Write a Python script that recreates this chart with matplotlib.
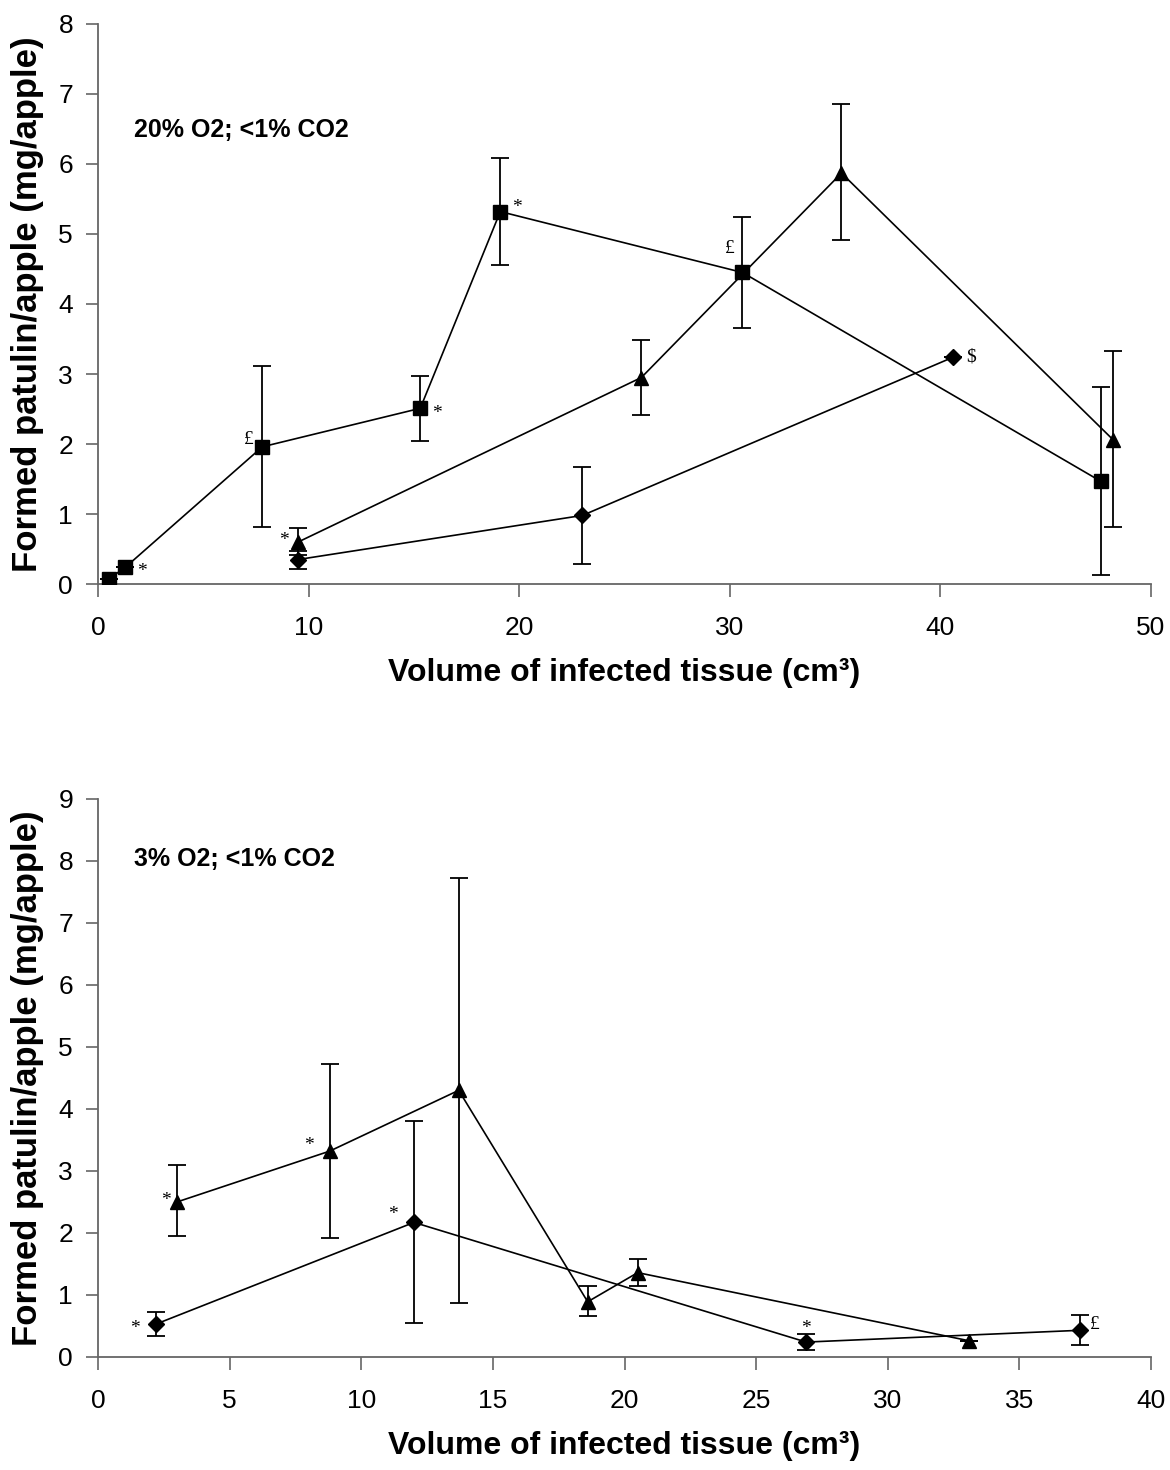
import numpy as np
import matplotlib.pyplot as plt

plt.rcParams['font.family'] = ['Liberation Sans', 'DejaVu Sans']

# 20% O2; <1% CO2 -- three series
sq_x = [0.5, 1.3, 7.8, 15.3, 19.1, 30.6, 47.6]
sq_y = [0.07, 0.24, 1.96, 2.51, 5.32, 4.45, 1.47]
sq_lo = [0.07, 0.24, 0.81, 2.05, 4.55, 3.65, 0.13]
sq_hi = [0.07, 0.24, 3.11, 2.97, 6.09, 5.24, 2.82]

tri_x = [9.5, 25.8, 35.3, 48.2]
tri_y = [0.60, 2.95, 5.87, 2.06]
tri_lo = [0.42, 2.42, 4.92, 0.82]
tri_hi = [0.80, 3.48, 6.85, 3.33]

dia_x = [9.5, 23.0, 40.6]
dia_y = [0.35, 0.98, 3.24]
dia_lo = [0.22, 0.28, 3.24]
dia_hi = [0.47, 1.67, 3.24]

# 3% O2; <1% CO2 -- two series
tri2_x = [3.0, 8.8, 13.7, 18.6, 20.5, 33.1]
tri2_y = [2.50, 3.32, 4.30, 0.89, 1.36, 0.26]
tri2_lo = [1.95, 1.92, 0.87, 0.66, 1.15, 0.26]
tri2_hi = [3.10, 4.73, 7.72, 1.15, 1.58, 0.26]

dia2_x = [2.2, 12.0, 26.9, 37.3]
dia2_y = [0.53, 2.17, 0.24, 0.43]
dia2_lo = [0.33, 0.54, 0.12, 0.19]
dia2_hi = [0.73, 3.80, 0.37, 0.67]

# significance marks: (x, y, symbol, dx pts, dy pts)
top_marks = [
    (1.3, 0.24, '*', 12, -3),
    (7.8, 1.96, '£', -10, 5),
    (15.3, 2.51, '*', 12, -4),
    (19.1, 5.32, '*', 12, 3),
    (30.6, 4.45, '£', -9, 17),
    (9.5, 0.60, '*', -10, 1),
    (40.6, 3.24, '$', 13, 0),
]
bot_marks = [
    (3.0, 2.50, '*', -8, 1),
    (8.8, 3.32, '*', -15, 4),
    (12.0, 2.17, '*', -15, 6),
    (2.2, 0.53, '*', -15, -3),
    (26.9, 0.24, '*', 0, 10),
    (37.3, 0.43, '£', 11, 4),
]


def series(ax, x, y, lo, hi, marker, ms):
    y = np.array(y)
    err = [y - np.array(lo), np.array(hi) - y]
    ax.errorbar(x, y, yerr=err, fmt='none', ecolor='black', elinewidth=1.3,
                capsize=6.5, capthick=1.3, zorder=2)
    ax.plot(x, y, color='black', lw=1.2, marker=marker, ms=ms,
            markerfacecolor='black', markeredgecolor='black', zorder=3)


def style(ax, xmax, xstep, ymax):
    ax.set_xlim(0, xmax)
    ax.set_ylim(0, ymax)
    ax.set_xticks(np.arange(0, xmax + 1, xstep))
    ax.set_yticks(np.arange(0, ymax + 1, 1))
    for s in ['top', 'right']:
        ax.spines[s].set_visible(False)
    for s in ['left', 'bottom']:
        ax.spines[s].set_color('#666666')
        ax.spines[s].set_linewidth(1.3)
    ax.tick_params(direction='out', length=9, width=1.2, color='#666666',
                   labelsize=19)
    ax.tick_params(axis='y', pad=9)
    ax.tick_params(axis='x', pad=14)
    ax.set_xlabel('Volume of infected tissue (cm³)', fontsize=23,
                  fontweight='bold', labelpad=13)
    ax.set_ylabel('Formed patulin/apple (mg/apple)', fontsize=25,
                  fontweight='bold', labelpad=10)


def marks(ax, items):
    for x, y, s, dx, dy in items:
        ax.annotate(s, (x, y), xytext=(dx, dy), textcoords='offset points',
                    ha='center', va='center', fontsize=14,
                    family='Liberation Serif')


fig = plt.figure(figsize=(11.7, 14.7), dpi=100)
ax1 = fig.add_axes([0.0838, 0.6027, 0.90, 0.381])
ax2 = fig.add_axes([0.0838, 0.0769, 0.90, 0.3796])

series(ax1, sq_x, sq_y, sq_lo, sq_hi, 's', 10)
series(ax1, tri_x, tri_y, tri_lo, tri_hi, '^', 10)
series(ax1, dia_x, dia_y, dia_lo, dia_hi, 'D', 8.5)
style(ax1, 50, 10, 8)
marks(ax1, top_marks)
ax1.text(0.034, 0.81, '20% O2; <1% CO2', transform=ax1.transAxes,
         fontsize=18, fontweight='bold', va='center')

series(ax2, tri2_x, tri2_y, tri2_lo, tri2_hi, '^', 10)
series(ax2, dia2_x, dia2_y, dia2_lo, dia2_hi, 'D', 8.5)
style(ax2, 40, 5, 9)
marks(ax2, bot_marks)
ax2.text(0.034, 0.893, '3% O2; <1% CO2', transform=ax2.transAxes,
         fontsize=18, fontweight='bold', va='center')

fig.savefig('out.png', dpi=100)
